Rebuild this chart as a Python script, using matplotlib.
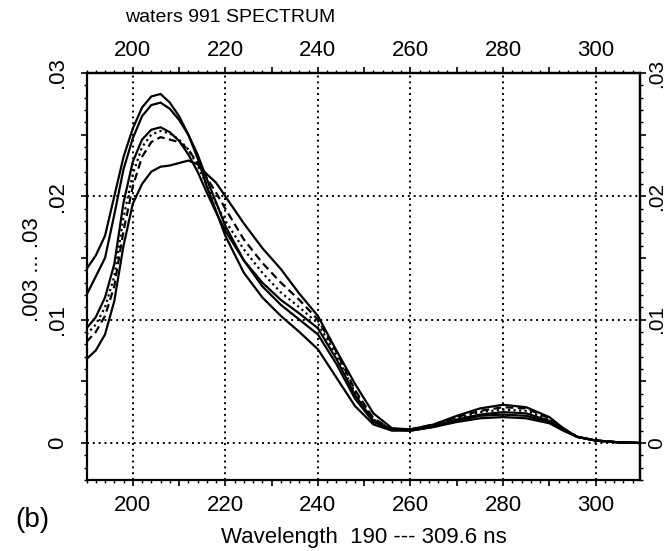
import numpy as np
import matplotlib.pyplot as plt
from matplotlib.ticker import FixedLocator, MultipleLocator, FuncFormatter

plt.rcParams['font.family'] = ['Liberation Sans', 'DejaVu Sans']

# wavelength grid (nm) and absorbance of the six spectra
wl = [190, 192, 194, 196, 198, 200, 202, 204, 206, 208, 210, 212, 214, 216, 218, 220,
      224, 228, 232, 236, 240, 244, 248, 252, 256, 260, 265, 270, 275, 280, 285, 290,
      293, 296, 300, 305, 309.6]

spec_a = [.0141, .0152, .0168, .0200, .0232, .0255, .0272, .0281, .0283, .0276, .0265, .0250,
          .0231, .0208, .0188, .0168, .0138, .0118, .0103, .0090, .0076, .0053, .0030, .0015,
          .0010, .0010, .0013, .0017, .0020, .0021, .0020, .0016, .0010, .0005, .0002, .00005, 0]
spec_b = [.0120, .0135, .0150, .0185, .0222, .0247, .0265, .0274, .0276, .0271, .0262, .0250,
          .0234, .0214, .0195, .0176, .0148, .0127, .0112, .0100, .0088, .0064, .0036, .0017,
          .0011, .0010, .0013, .0018, .0022, .0023, .0022, .0017, .0011, .0005, .0002, .00005, 0]
spec_c = [.0093, .0102, .0118, .0145, .0195, .0228, .0246, .0254, .0256, .0252, .0245, .0234,
          .0220, .0203, .0187, .0172, .0148, .0130, .0116, .0105, .0093, .0068, .0039, .0018,
          .0011, .0011, .0014, .0019, .0023, .0025, .0024, .0018, .0011, .0005, .0002, .00005, 0]
spec_d = [.0088, .0096, .0110, .0135, .0183, .0218, .0240, .0250, .0253, .0251, .0246, .0238,
          .0225, .0209, .0194, .0180, .0157, .0138, .0122, .0110, .0097, .0071, .0041, .0019,
          .0011, .0011, .0014, .0020, .0025, .0027, .0026, .0019, .0011, .0005, .0002, .00005, 0]
spec_e = [.0082, .0090, .0103, .0127, .0172, .0208, .0232, .0244, .0248, .0246, .0244, .0238,
          .0227, .0215, .0203, .0190, .0165, .0146, .0130, .0116, .0100, .0074, .0043, .0020,
          .0011, .0011, .0015, .0021, .0026, .0029, .0028, .0020, .0012, .0005, .0002, .00005, 0]
spec_f = [.0068, .0075, .0088, .0115, .0160, .0194, .0210, .0220, .0224, .0225, .0227, .0229,
          .0226, .0218, .0211, .0200, .0178, .0158, .0141, .0121, .0103, .0075, .0048, .0024,
          .0012, .0011, .0015, .0022, .0028, .0031, .0029, .0021, .0012, .0005, .0002, .00005, 0]

x_grid = [200, 220, 240, 260, 280, 300]
y_grid = [0, 0.01, 0.02]

fig = plt.figure(figsize=(6.69, 5.51), dpi=100)
ax = fig.add_axes([0.1293, 0.1289, 0.8274, 0.7386])

for v in x_grid:
    ax.axvline(v, color='k', lw=1.4, ls=(0, (1, 2)), zorder=1)
for v in y_grid:
    ax.axhline(v, color='k', lw=1.4, ls=(0, (1, 2)), zorder=1)

ax.plot(wl, spec_a, color='k', lw=1.6)
ax.plot(wl, spec_b, color='k', lw=1.6)
ax.plot(wl, spec_c, color='k', lw=1.6)
ax.plot(wl, spec_d, color='k', lw=1.6, ls=(0, (1, 1.5)))
ax.plot(wl, spec_e, color='k', lw=1.6, ls=(0, (3.5, 2)))
ax.plot(wl, spec_f, color='k', lw=1.6)

ax.set_xlim(190, 309.6)
ax.set_ylim(-0.003, 0.03)
for s in ax.spines.values():
    s.set_linewidth(1.6)


def xfmt(v, pos):
    return '%d' % v if round(v) % 20 == 0 else ''


def yfmt(v, pos):
    k = int(round(v / 0.005))
    if k % 2:
        return ''
    if k == 0:
        return '0'
    return ('%.2f' % v).lstrip('0')


def setup_x(axis_obj):
    axis_obj.xaxis.set_major_locator(FixedLocator(np.arange(200, 310, 10)))
    axis_obj.xaxis.set_minor_locator(MultipleLocator(2))
    axis_obj.xaxis.set_major_formatter(FuncFormatter(xfmt))


def setup_y(axis_obj):
    axis_obj.yaxis.set_major_locator(FixedLocator(np.arange(-0.0, 0.0301, 0.005)))
    axis_obj.yaxis.set_minor_locator(MultipleLocator(0.001))
    axis_obj.yaxis.set_major_formatter(FuncFormatter(yfmt))


setup_x(ax)
setup_y(ax)
ax.tick_params(axis='x', which='major', direction='out', length=4, width=1.2, pad=7, labelsize=16)
ax.tick_params(axis='x', which='minor', direction='out', length=2, width=1)
ax.tick_params(axis='y', which='major', direction='out', length=4, width=1.2, pad=9,
               labelsize=16, labelrotation=90)
ax.tick_params(axis='y', which='minor', direction='out', length=2, width=1)
for lab in ax.get_yticklabels():
    lab.set_va('center')

top = ax.secondary_xaxis('top')
setup_x(top)
top.tick_params(axis='x', which='major', direction='out', length=4, width=1.2, pad=5, labelsize=16)
top.tick_params(axis='x', which='minor', direction='out', length=2, width=1)
top.spines['top'].set_linewidth(1.6)

right = ax.secondary_yaxis('right')
setup_y(right)
right.tick_params(axis='y', which='major', direction='out', length=4, width=1.2, pad=1,
                  labelsize=15, labelrotation=90)
right.tick_params(axis='y', which='minor', direction='out', length=2, width=1)
right.spines['right'].set_linewidth(1.6)
for lab in right.get_yticklabels():
    lab.set_va('center')

fig.text(125 / 669, 1 - 18 / 551, 'waters 991 SPECTRUM', fontsize=14, ha='left', va='center')
fig.text(364 / 669, 1 - 538 / 551, 'Wavelength  190 --- 309.6 ns', fontsize=16,
         ha='center', va='center')
fig.text(32 / 669, 1 - 270 / 551, '.003 ... .03', fontsize=16, rotation=90,
         ha='center', va='center')
fig.text(32 / 669, 1 - 520 / 551, '(b)', fontsize=20, ha='center', va='center')

fig.savefig('out.png', dpi=100)
